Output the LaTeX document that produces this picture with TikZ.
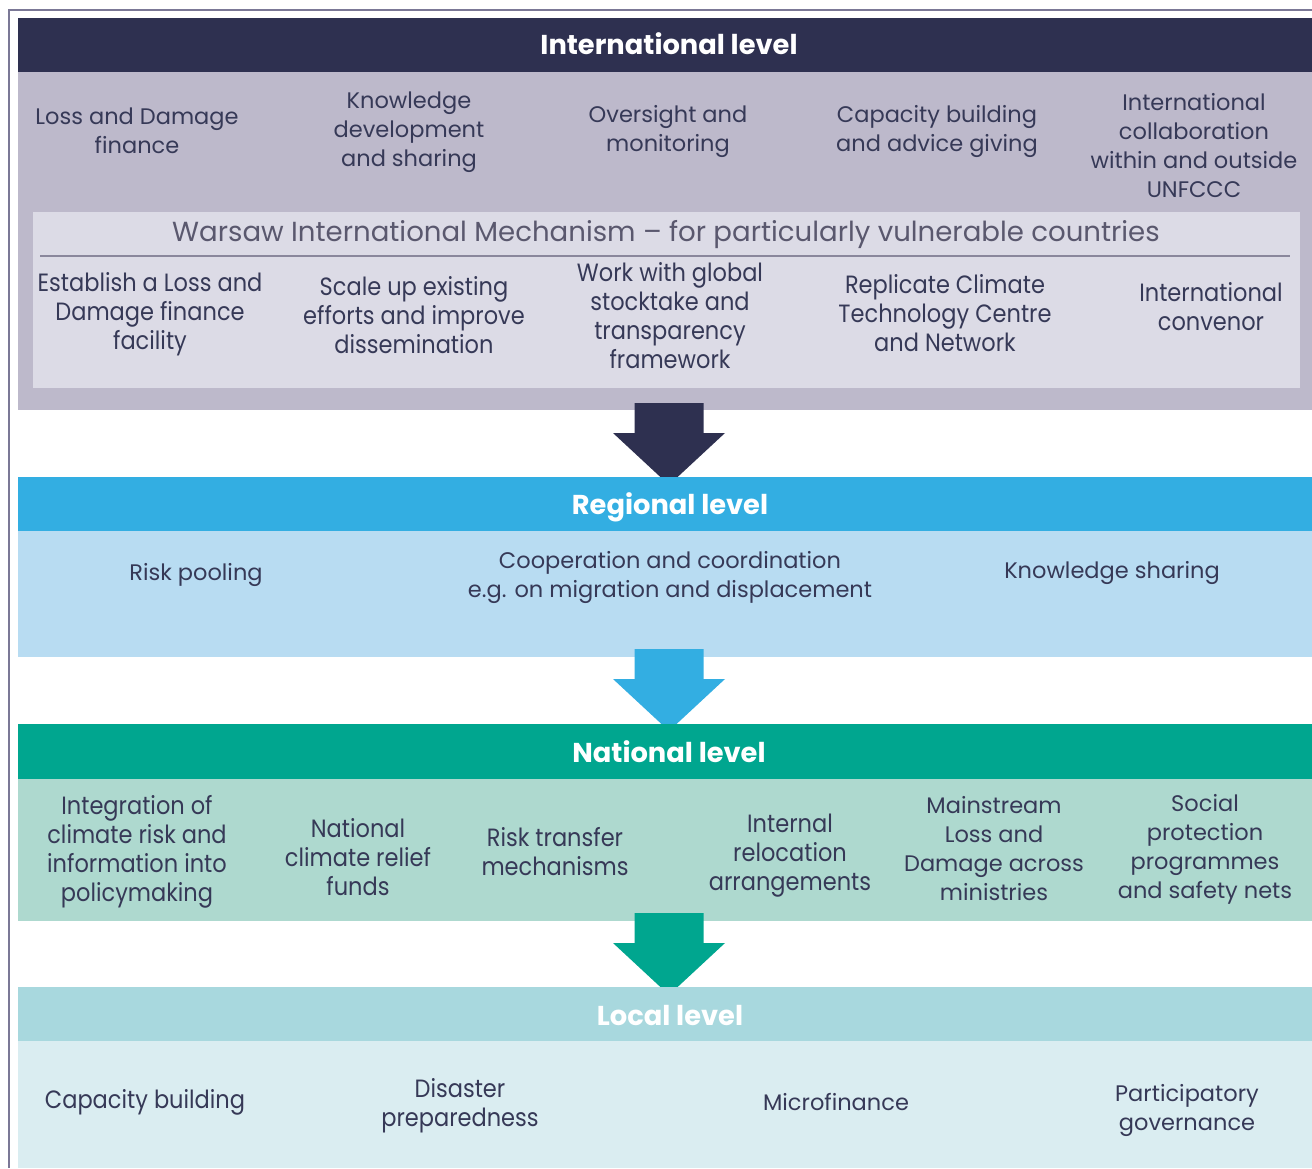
\documentclass[tikz,border=0pt]{standalone}
\usepackage{fontspec}
\setmainfont{Poppins}
\newfontfamily\condf[FakeStretch=0.9]{Poppins}
\definecolor{navy}{HTML}{2E3050}
\definecolor{intbody}{HTML}{BDB9CB}
\definecolor{wimbox}{HTML}{DCDBE6}
\definecolor{wimline}{HTML}{8A879C}
\definecolor{frame}{HTML}{7B7896}
\definecolor{regh}{HTML}{33AEE2}
\definecolor{regb}{HTML}{B8DCF2}
\definecolor{nath}{HTML}{00A68F}
\definecolor{natb}{HTML}{AED9CF}
\definecolor{loch}{HTML}{A8D8DE}
\definecolor{locb}{HTML}{DAEDF1}
\definecolor{txt}{HTML}{363957}
\definecolor{wimtxt}{HTML}{5A586E}
\tikzset{
  item/.style={align=center, text=txt, font=\fontsize{22.5}{29}\selectfont, inner sep=0pt},
  citem/.style={align=center, text=txt, font=\condf\fontsize{25}{29}\selectfont, inner sep=0pt},
  head/.style={text=white, font=\bfseries\fontsize{27.3}{32}\selectfont, inner sep=0pt}
}
\newcommand{\blockarrow}[3]{% #1 x centre, #2 top y, #3 colour
  \fill[#3] ({#1-34.5},#2) -- ({#1+34.5},#2) -- ({#1+34.5},{#2+30}) -- ({#1+56},{#2+30})
    -- (#1,{#2+82}) -- ({#1-56},{#2+30}) -- ({#1-34.5},{#2+30}) -- cycle;}
\begin{document}
\begin{tikzpicture}[x=1pt,y=-1pt]
\useasboundingbox (0,0) rectangle (1312,1168);
\fill[white] (0,0) rectangle (1312,1168);
% outer frame
\draw[frame, line width=1.5pt] (9,1168) -- (9,10) -- (1312,10);
% international
\fill[navy] (18,18) rectangle (1312,72);
\fill[intbody] (18,72) rectangle (1312,410);
\fill[wimbox] (33,212) rectangle (1300,388);
\draw[wimline, line width=1.5pt] (40,256) -- (1290,256);
\node[head] (ih) at (669,44) {International level};
\node[item] (i1) at (137,131) {Loss and Damage\\finance};
\node[item] (i2) at (409,132) {Knowledge\\development\\and sharing};
\node[item] (i3) at (668,131) {Oversight and\\monitoring};
\node[item] (i4) at (937,131) {Capacity building\\and advice giving};
\node[item] (i5) at (1194,146) {International\\collaboration\\within and outside\\UNFCCC};
\node[inner sep=0pt, text=wimtxt, font=\fontsize{27.6}{32}\selectfont] (wim) at (666,235) {Warsaw International Mechanism -- for particularly vulnerable countries};
\node[citem] (w1) at (150,314) {Establish a Loss and\\Damage finance\\facility};
\node[citem] (w2) at (414,315) {Scale up existing\\efforts and improve\\dissemination};
\node[citem] (w3) at (670,316) {Work with global\\stocktake and\\transparency\\framework};
\node[citem] (w4) at (945,313) {Replicate Climate\\Technology Centre\\and Network};
\node[citem] (w5) at (1211,307) {International\\convenor};
% arrow 1
\blockarrow{669}{403}{navy}
% regional
\fill[regh] (18,477) rectangle (1312,531);
\fill[regb] (18,531) rectangle (1312,657);
\node[head] (rh) at (670,507) {Regional level};
\node[item] (r1) at (196,575) {Risk pooling};
\node[item] (r2) at (670,577) {Cooperation and coordination\\e.g. on migration and displacement};
\node[item] (r3) at (1112,573) {Knowledge sharing};
\blockarrow{669}{649}{regh}
% national
\fill[nath] (18,724) rectangle (1312,779);
\fill[natb] (18,779) rectangle (1312,921);
\node[head] (nh) at (669,752) {National level};
\node[citem] (n1) at (137,852) {Integration of\\climate risk and\\information into\\policymaking};
\node[citem] (n2) at (358,857) {National\\climate relief\\funds};
\node[citem] (n3) at (555,852) {Risk transfer\\mechanisms};
\node[citem] (n4) at (790,856) {Internal\\relocation\\arrangements};
\node[item] (n5) at (994,849) {Mainstream\\Loss and\\Damage across\\ministries};
\node[item] (n6) at (1205,849) {Social\\protection\\programmes\\and safety nets};
\blockarrow{669}{913}{nath}
% local
\fill[loch] (18,987) rectangle (1312,1041);
\fill[locb] (18,1041) rectangle (1312,1168);
\node[head] (lh) at (670,1015) {Local level};
\node[citem] (l1) at (145,1102) {Capacity building};
\node[citem] (l2) at (460,1106) {Disaster\\preparedness};
\node[item] (l3) at (836,1102) {Microfinance};
\node[item] (l4) at (1187,1110) {Participatory\\governance};
\end{tikzpicture}
\end{document}
